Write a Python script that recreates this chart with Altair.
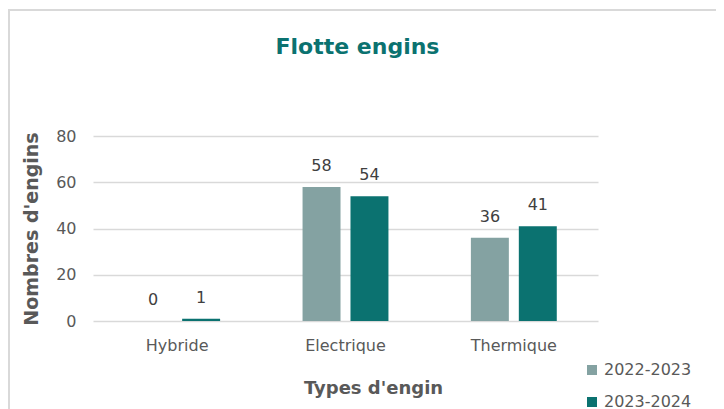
import altair as alt
import pandas as pd

categories = ["Hybride", "Electrique", "Thermique"]
periods = ["2022-2023", "2023-2024"]
values_2022 = [0, 58, 36]
values_2023 = [1, 54, 41]

rows = []
for c, a, b in zip(categories, values_2022, values_2023):
    rows.append({"type": c, "periode": periods[0], "n": a})
    rows.append({"type": c, "periode": periods[1], "n": b})
df = pd.DataFrame(rows)

FONT = "DejaVu Sans"
GRAY = "#595959"
colors = ["#84a2a2", "#0b7270"]

x_enc = alt.X("type:N", sort=categories,
              scale=alt.Scale(paddingInner=0, paddingOuter=0),
              axis=alt.Axis(title="Types d'engin", labelAngle=0, ticks=False, domain=False,
                            labelPadding=16, labelFontSize=16, labelColor=GRAY, labelFont=FONT,
                            titleFontSize=18, titleFont=FONT, titleFontWeight="bold", titleColor=GRAY,
                            titleX=280, titleY=67, titleBaseline="middle", titleAnchor="start", titleAlign="center"))
xo = alt.XOffset("periode:N", sort=periods,
                 scale=alt.Scale(paddingInner=0.208, paddingOuter=0.86))

bars = alt.Chart(df).mark_bar().encode(
    x=x_enc,
    xOffset=xo,
    y=alt.Y("n:Q", scale=alt.Scale(domain=[0, 80]),
            axis=alt.Axis(title="Nombres d'engins", values=[0, 20, 40, 60, 80], ticks=False, domain=False,
                          labelPadding=17, labelFontSize=16, labelColor=GRAY, labelFont=FONT,
                          gridColor="#d9d9d9", gridWidth=1.5,
                          titleFontSize=19, titleFont=FONT, titleFontWeight="bold", titleColor=GRAY,
                          titlePadding=14)),
    color=alt.Color("periode:N", sort=periods,
                    scale=alt.Scale(domain=periods, range=colors),
                    legend=alt.Legend(title=None, orient="none", legendX=491, legendY=226,
                                      symbolType="square", symbolSize=100, symbolStrokeWidth=0,
                                      labelFontSize=16, labelColor=GRAY, labelFont=FONT,
                                      rowPadding=16, labelOffset=4)),
)

labels = alt.Chart(df).mark_text(fontSize=16, font=FONT, color="#404040", baseline="alphabetic", dy=-16).encode(
    x=alt.X("type:N", sort=categories),
    xOffset=xo,
    y="n:Q",
    text="n:Q",
)

border = alt.Chart(pd.DataFrame({"a": [0]})).mark_rect(fill=None, stroke="#d9d9d9", strokeWidth=2).encode(
    x=alt.value(-84), x2=alt.value(700), y=alt.value(-126), y2=alt.value(400)
)

chart = alt.layer(border, bars, labels).properties(
    width=505, height=185,
    autosize=alt.AutoSizeParams(type="none"),
    padding={"left": 85, "top": 128, "right": 118, "bottom": 88},
    title=alt.TitleParams("Flotte engins", font=FONT, fontSize=22, fontWeight="bold", color="#0b7270",
                          anchor="middle", dx=12, offset=-50),
    background="white",
).configure_view(stroke=None)

chart.save("out.html", embed_options={"renderer": "svg", "actions": False})
